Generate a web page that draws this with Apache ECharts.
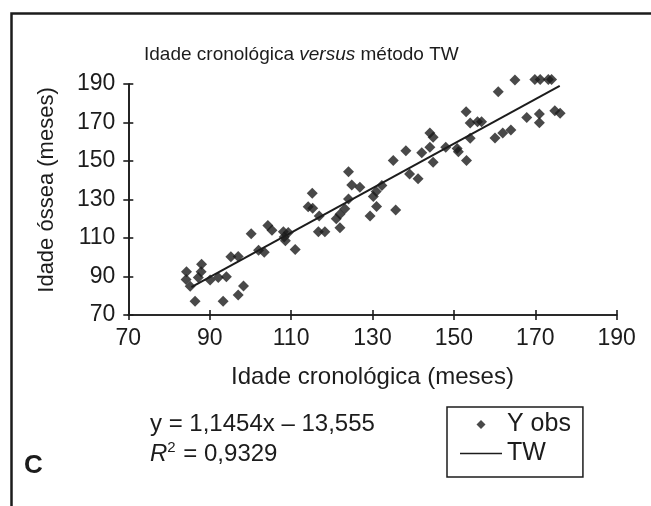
<!DOCTYPE html>
<html><head><meta charset="utf-8">
<script src="https://cdn.jsdelivr.net/npm/echarts@6/dist/echarts.min.js"></script>
<style>html,body{margin:0;padding:0;background:#fff}#c{width:651px;height:506px}</style>
</head><body><div id="c"></div>
<script>
const seriesNames = ['Y obs', 'TW'];
const obsX = [84.3,84.2,85.2,86.4,88.0,87.9,87.2,90.1,92.1,94.1,93.3,97.0,98.3,95.2,97.0,100.2,102.0,103.4,104.3,105.3,108.1,109.3,108.3,108.6,111.0,114.2,115.3,115.2,116.9,116.7,118.3,121.1,122.0,123.2,122.0,124.1,124.1,124.9,126.9,129.4,130.2,130.9,131.0,132.3,135.7,135.1,138.2,139.1,141.2,142.1,144.1,144.9,144.1,144.9,148.0,150.8,151.1,153.1,153.0,154.0,155.8,156.8,154.0,160.1,162.0,164.0,160.9,165.0,169.9,171.2,173.2,174.0,167.9,171.0,171.0,174.8,176.1];
const obsY = [92.5,88.4,85.0,77.1,96.4,92.5,89.5,88.2,89.5,89.9,77.1,80.4,85.1,100.3,100.4,112.2,103.6,102.6,116.5,114.0,113.3,112.8,110.5,108.6,104.0,126.2,125.5,133.2,121.4,113.3,113.3,120.0,122.4,125.2,115.3,130.2,144.4,137.5,136.3,121.4,131.5,134.1,126.3,137.3,124.5,150.3,155.3,143.3,140.8,154.3,164.5,162.3,157.2,149.4,157.2,156.5,154.8,150.3,175.6,169.8,170.4,170.4,161.8,162.0,164.5,166.1,186.0,192.1,192.4,192.4,192.4,192.4,172.6,174.4,169.9,176.1,174.8];
const lineX = [85.5, 176.0];
const lineY = [84.5, 189.0];
const axisMin = 70, axisMax = 190, axisStep = 20;
const titleParts = ['Idade cronológica ', 'versus', ' método TW'];
const xName = 'Idade cronológica (meses)';
const yName = 'Idade óssea (meses)';
const eqText = 'y = 1,1454x – 13,555';
const r2Value = ' = 0,9329';
const panelLabel = 'C';

const FONT = 'Liberation Sans, Arial, Helvetica, sans-serif';
const INK = '#1c1c1c';
const W = 651, H = 506;
const G = {left: 128.3, right: 34.3, top: 84, bottom: 191};
const plotW = W - G.left - G.right, plotH = H - G.top - G.bottom;
const chart = echarts.init(document.getElementById('c'), null, {renderer: 'canvas'});
const scatterData = obsX.map((x, i) => [x, obsY[i]]);
const lineData = lineX.map((x, i) => [x, lineY[i]]);
function axis(extra) {
  return Object.assign({
    type: 'value', show: true,
    min: axisMin, max: axisMax, interval: axisStep,
    axisLine: {show: true, onZero: false, lineStyle: {color: INK, width: 1.6}},
    splitLine: {show: false}
  }, extra);
}
const tickStyle = {color: INK, width: 1.6};
chart.setOption({
  animation: false,
  backgroundColor: '#fff',
  title: {
    text: '{n|' + titleParts[0] + '}{i|' + titleParts[1] + '}{n|' + titleParts[2] + '}',
    left: 139, top: 40,
    textStyle: {fontWeight: 'normal', rich: {
      n: {fontFamily: FONT, fontSize: 19, fontWeight: 'normal', color: INK},
      i: {fontFamily: FONT, fontSize: 19, fontWeight: 'normal', color: INK, fontStyle: 'italic'}
    }}
  },
  grid: [Object.assign({containLabel: false}, G), Object.assign({containLabel: false}, G)],
  xAxis: [
    axis({
      gridIndex: 0, position: 'bottom',
      name: xName, nameLocation: 'middle', nameGap: 50,
      nameTextStyle: {fontFamily: FONT, fontSize: 24, color: INK},
      axisTick: {show: true, inside: false, length: 5, lineStyle: tickStyle},
      axisLabel: {fontFamily: FONT, fontSize: 23, color: INK, margin: 12}
    }),
    axis({
      gridIndex: 1, position: 'top', offset: -plotH,
      axisTick: {show: true, inside: false, length: 5, lineStyle: tickStyle},
      axisLabel: {show: false}
    })
  ],
  yAxis: [
    axis({
      gridIndex: 0, position: 'left',
      axisTick: {show: true, inside: false, length: 5, lineStyle: tickStyle},
      axisLabel: {fontFamily: FONT, fontSize: 23, color: INK, margin: 13}
    }),
    axis({
      gridIndex: 1, position: 'right', offset: -plotW,
      axisTick: {show: true, inside: false, length: 5, lineStyle: tickStyle},
      axisLabel: {show: false}
    })
  ],
  legend: {
    orient: 'vertical', left: 447, top: 407,
    backgroundColor: '#fff',
    borderColor: INK, borderWidth: 1.5, borderRadius: 0,
    padding: [5, 12, 11, 13],
    itemWidth: 42, itemHeight: 9, itemGap: 4,
    textStyle: {fontFamily: FONT, fontSize: 25, color: INK},
    data: [
      {name: seriesNames[0], icon: 'path://M5,0L10,5L5,10L0,5Z'},
      {name: seriesNames[1], icon: 'path://M0,0L42,0L42,1.6L0,1.6Z'}
    ]
  },
  series: [
    {
      name: seriesNames[0], type: 'scatter', xAxisIndex: 0, yAxisIndex: 0,
      data: scatterData, clip: false,
      symbol: 'diamond', symbolSize: 11,
      itemStyle: {color: INK}
    },
    {
      name: seriesNames[1], type: 'line', xAxisIndex: 1, yAxisIndex: 1,
      data: lineData, symbol: 'none',
      lineStyle: {color: INK, width: 2}, itemStyle: {color: INK}
    }
  ],
  graphic: [
    {type: 'rect', left: 9, top: 11, shape: {width: 700, height: 600},
     style: {fill: 'none', stroke: INK, lineWidth: 2.5}, silent: true, z: 100},
    {type: 'text', x: 46.7, y: 190, rotation: Math.PI / 2,
     style: {text: yName, font: '22px ' + FONT, fill: INK, textAlign: 'center', textVerticalAlign: 'middle'}},
    {type: 'text', x: 150, y: 424,
     style: {text: eqText, font: '24px ' + FONT, fill: INK, textAlign: 'left', textVerticalAlign: 'middle'}},
    {type: 'text', x: 150, y: 454,
     style: {text: '{i|R}{s|2}{n|' + r2Value + '}', textAlign: 'left', textVerticalAlign: 'middle',
       rich: {
         i: {fontFamily: FONT, fontSize: 24, fontStyle: 'italic', fill: INK, color: INK},
         s: {fontFamily: FONT, fontSize: 15, fill: INK, color: INK, verticalAlign: 'top', padding: [0, 1, 12, 0]},
         n: {fontFamily: FONT, fontSize: 24, fill: INK, color: INK}
       }}},
    {type: 'text', x: 24, y: 466,
     style: {text: panelLabel, font: 'bold 26px ' + FONT, fill: INK, textAlign: 'left', textVerticalAlign: 'middle'}}
  ]
});
</script>
</body></html>
